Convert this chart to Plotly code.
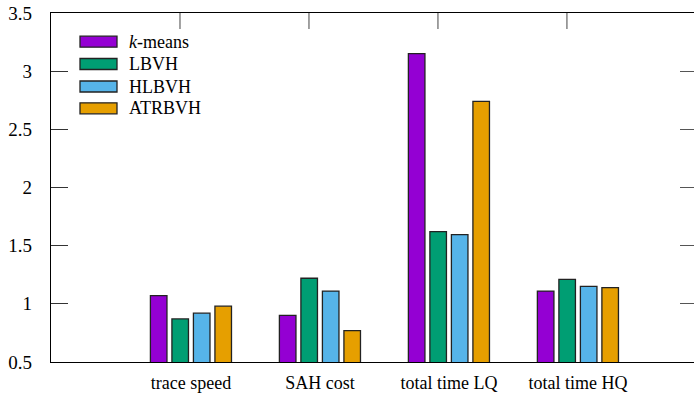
import plotly.graph_objects as go

categories = ["trace speed", "SAH cost", "total time LQ", "total time HQ"]
series_names = ["<i>k</i>-means", "LBVH", "HLBVH", "ATRBVH"]
kmeans = [1.07, 0.90, 3.15, 1.11]
lbvh = [0.87, 1.22, 1.62, 1.21]
hlbvh = [0.92, 1.11, 1.595, 1.15]
atrbvh = [0.98, 0.77, 2.74, 1.14]
colors = ["#9400D3", "#009E73", "#56B4E9", "#E69F00"]
y_ticks = [0.5, 1, 1.5, 2, 2.5, 3, 3.5]
y_tick_labels = ["0.5", "1", "1.5", "2", "2.5", "3", "3.5"]

W, H = 694, 395
L, R, T, B = 51, 0, 13, 33
pw, ph = W - L - R, H - T - B

FONT = "Liberation Serif"
xpos = list(range(len(categories)))
XRANGE = [-1.085, 3.9]

fig = go.Figure()
for name, vals, col in zip(series_names, [kmeans, lbvh, hlbvh, atrbvh], colors):
    fig.add_trace(go.Bar(
        x=xpos, y=vals, name=name, showlegend=False,
        marker=dict(color=col, line=dict(color="#222222", width=1.3)),
    ))
# invisible trace for mirrored right-axis ticks
fig.add_trace(go.Scatter(x=[0], y=[1], yaxis="y2", mode="markers",
                         marker=dict(opacity=0), showlegend=False, hoverinfo="skip"))

fig.update_layout(
    width=W, height=H,
    margin=dict(l=L, r=R, t=T, b=B),
    paper_bgcolor="white", plot_bgcolor="white",
    barmode="group", bargap=0.333, bargroupgap=0.23,
    font=dict(family=FONT, size=18, color="black"),
    xaxis=dict(
        range=XRANGE, tickvals=xpos, ticktext=categories,
        showgrid=False, zeroline=False, showline=True, linecolor="black",
        linewidth=1.3, mirror=True, ticks="", ticklabelstandoff=4,
        tickfont=dict(family=FONT, size=18),
    ),
    yaxis=dict(
        range=[0.5, 3.5], tickvals=y_ticks, ticktext=y_tick_labels,
        showgrid=False, zeroline=False, showline=True, linecolor="black",
        linewidth=1.3, ticks="inside", ticklen=17, tickcolor="#333333",
        tickwidth=1, ticklabelstandoff=14, tickfont=dict(family=FONT, size=19),
    ),
    yaxis2=dict(
        range=[0.5, 3.5], tickvals=y_ticks, overlaying="y", side="right",
        showgrid=False, zeroline=False, showline=False, showticklabels=False,
        ticks="inside", ticklen=14, tickcolor="#555555", tickwidth=1,
    ),
)

# top-edge tick marks (gnuplot mirrored x tics)
for p in xpos:
    fig.add_shape(type="line", xref="x", yref="paper",
                  x0=p - 0.085, x1=p - 0.085, y0=1, y1=1 - 16 / ph,
                  line=dict(color="#444444", width=1))

# manual legend (gnuplot style wide swatches)
legend_rows = [41.7, 64, 86.5, 108.3]
def px_x(p):
    return (p - L) / pw
def px_y(p):
    return (H - B - p) / ph
for name, col, yc in zip(series_names, colors, legend_rows):
    fig.add_shape(type="rect", xref="paper", yref="paper",
                  x0=px_x(80), x1=px_x(117), y0=px_y(yc + 5.5), y1=px_y(yc - 5.5),
                  fillcolor=col, line=dict(color="#222222", width=1.3))
    fig.add_annotation(xref="paper", yref="paper", x=px_x(127), y=px_y(yc),
                       text=name, showarrow=False, xanchor="left", yanchor="middle",
                       font=dict(family=FONT, size=18, color="black"))

fig.write_html("out.html")
